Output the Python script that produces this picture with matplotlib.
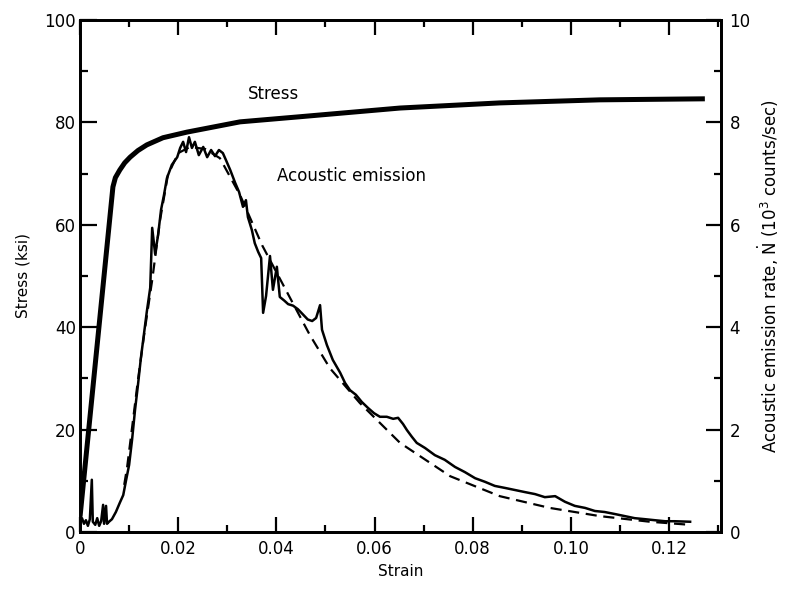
import matplotlib
matplotlib.use("Agg")
import matplotlib.pyplot as plt

# stress-strain curve (left axis, ksi)
stress_strain = [0.0, 0.0067, 0.0072, 0.0081, 0.0091, 0.0102, 0.0118, 0.0136, 0.0169,
                 0.0218, 0.0326, 0.0448, 0.0652, 0.0855, 0.1059, 0.1273]
stress_ksi = [3.0, 67.4, 69.2, 70.7, 72.1, 73.2, 74.5, 75.6, 77.0,
              78.1, 80.1, 81.1, 82.8, 83.8, 84.4, 84.6]

# measured acoustic emission rate (right axis, 10^3 counts/sec)
ae_strain = [0.0, 0.0004, 0.0008, 0.0012, 0.0016, 0.0020, 0.0024, 0.0026, 0.0031, 0.0035,
             0.0039, 0.0043, 0.0047, 0.0049, 0.0053, 0.0055, 0.0059, 0.0065, 0.0073, 0.0081,
             0.0088, 0.0094, 0.0100, 0.0106, 0.0112, 0.0118, 0.0124, 0.0130, 0.0136, 0.0143,
             0.0147, 0.0153, 0.0159, 0.0165, 0.0171, 0.0177, 0.0187, 0.0198, 0.0204, 0.0210,
             0.0216, 0.0222, 0.0228, 0.0234, 0.0242, 0.0251, 0.0259, 0.0267, 0.0275, 0.0283,
             0.0291, 0.0297, 0.0306, 0.0316, 0.0324, 0.0332, 0.0338, 0.0342, 0.0350, 0.0356,
             0.0363, 0.0369, 0.0373, 0.0379, 0.0387, 0.0393, 0.0401, 0.0407, 0.0416, 0.0424,
             0.0434, 0.0444, 0.0454, 0.0464, 0.0473, 0.0481, 0.0489, 0.0493, 0.0503, 0.0515,
             0.0530, 0.0540, 0.0550, 0.0562, 0.0574, 0.0587, 0.0599, 0.0611, 0.0625, 0.0638,
             0.0648, 0.0658, 0.0666, 0.0676, 0.0686, 0.0703, 0.0723, 0.0743, 0.0764, 0.0784,
             0.0805, 0.0825, 0.0845, 0.0866, 0.0886, 0.0906, 0.0927, 0.0947, 0.0968, 0.0988,
             0.1008, 0.1029, 0.1049, 0.1069, 0.1090, 0.1110, 0.1130, 0.1151, 0.1171, 0.1192,
             0.1212, 0.1243]
ae_rate = [0.20, 0.27, 0.16, 0.23, 0.12, 0.25, 1.02, 0.20, 0.14, 0.27,
           0.12, 0.21, 0.53, 0.16, 0.51, 0.16, 0.20, 0.25, 0.39, 0.57,
           0.72, 1.02, 1.31, 1.80, 2.38, 2.87, 3.40, 3.85, 4.30, 4.77,
           5.94, 5.43, 5.80, 6.29, 6.58, 6.91, 7.17, 7.32, 7.50, 7.62,
           7.42, 7.71, 7.50, 7.62, 7.36, 7.52, 7.32, 7.46, 7.34, 7.46,
           7.40, 7.27, 7.07, 6.82, 6.64, 6.35, 6.48, 6.15, 5.90, 5.64,
           5.47, 5.35, 4.28, 4.61, 5.39, 4.73, 5.18, 4.59, 4.52, 4.45,
           4.42, 4.35, 4.25, 4.15, 4.12, 4.18, 4.43, 3.95, 3.65, 3.36,
           3.11, 2.91, 2.77, 2.68, 2.54, 2.42, 2.32, 2.25, 2.25, 2.21,
           2.23, 2.11, 1.99, 1.86, 1.74, 1.64, 1.50, 1.41, 1.27, 1.17,
           1.05, 0.98, 0.90, 0.86, 0.82, 0.78, 0.74, 0.68, 0.70, 0.59,
           0.51, 0.47, 0.41, 0.39, 0.35, 0.31, 0.27, 0.25, 0.23, 0.21,
           0.21, 0.20]

# smooth (dashed) fit of the emission rate
fit_strain = [0.0090, 0.0096, 0.0108, 0.0118, 0.0132, 0.0147, 0.0163, 0.0179, 0.0200,
              0.0224, 0.0255, 0.0285, 0.0326, 0.0371, 0.0428, 0.0468, 0.0509, 0.0570,
              0.0652, 0.0754, 0.0855, 0.0957, 0.1059, 0.1161, 0.1243]
fit_rate = [0.92, 1.27, 2.19, 2.97, 3.95, 4.92, 6.09, 6.97, 7.40,
            7.52, 7.48, 7.30, 6.58, 5.60, 4.57, 3.85, 3.20, 2.52,
            1.74, 1.09, 0.70, 0.47, 0.31, 0.20, 0.14]

x_ticks = [0, 0.02, 0.04, 0.06, 0.08, 0.10, 0.12]
x_labels = ["0", "0.02", "0.04", "0.06", "0.08", "0.10", "0.12"]
left_ticks = [0, 20, 40, 60, 80, 100]
right_ticks = [0, 2, 4, 6, 8, 10]

plt.rcParams.update({'font.family': 'DejaVu Sans', 'font.size': 12})

fig = plt.figure(figsize=(7.87, 5.94), dpi=100)
ax = fig.add_axes([0.1017, 0.1044, 0.8145, 0.862])
ax2 = ax.twinx()

ax.plot(stress_strain, stress_ksi, color='black', lw=3.6, solid_capstyle='butt')
ax2.plot(ae_strain, ae_rate, color='black', lw=1.8)
ax2.plot(fit_strain, fit_rate, color='black', lw=1.6, ls=(0, (5, 3)))

ax.set_xlim(0, 0.1306)
ax.set_ylim(0, 100)
ax2.set_ylim(0, 10)

ax.set_xticks(x_ticks)
ax.set_xticklabels(x_labels)
ax.set_xticks([0.01, 0.03, 0.05, 0.07, 0.09, 0.11, 0.13], minor=True)
ax.set_yticks(left_ticks)
ax.set_yticks([10, 30, 50, 70, 90], minor=True)
ax2.set_yticks(right_ticks)
ax2.set_yticks([1, 3, 5, 7, 9], minor=True)

ax.tick_params(axis='x', which='both', direction='in', top=True, width=1.6, pad=6)
ax.tick_params(axis='x', which='major', length=11)
ax.tick_params(axis='x', which='minor', length=5)
ax.tick_params(axis='y', which='both', direction='in', right=False, width=1.6, pad=3)
ax.tick_params(axis='y', which='major', length=12)
ax.tick_params(axis='y', which='minor', length=6)
ax2.tick_params(axis='y', which='both', direction='in', width=1.6, pad=6)
ax2.tick_params(axis='y', which='major', length=11)
ax2.tick_params(axis='y', which='minor', length=5)

for a in (ax, ax2):
    for s in a.spines.values():
        s.set_linewidth(2)

ax.set_xlabel('Strain', fontsize=11, labelpad=4)
ax.set_ylabel('Stress (ksi)', fontsize=11, labelpad=10)
ax2.set_ylabel(r'Acoustic emission rate, $\dot{\mathrm{N}}$ (10$^3$ counts/sec)',
               fontsize=12, labelpad=4)

ax.text(0.0395, 85.5, 'Stress', fontsize=12, ha='center', va='center')
ax.text(0.0553, 69.5, 'Acoustic emission', fontsize=12, ha='center', va='center')

fig.savefig('out.png', dpi=100)
